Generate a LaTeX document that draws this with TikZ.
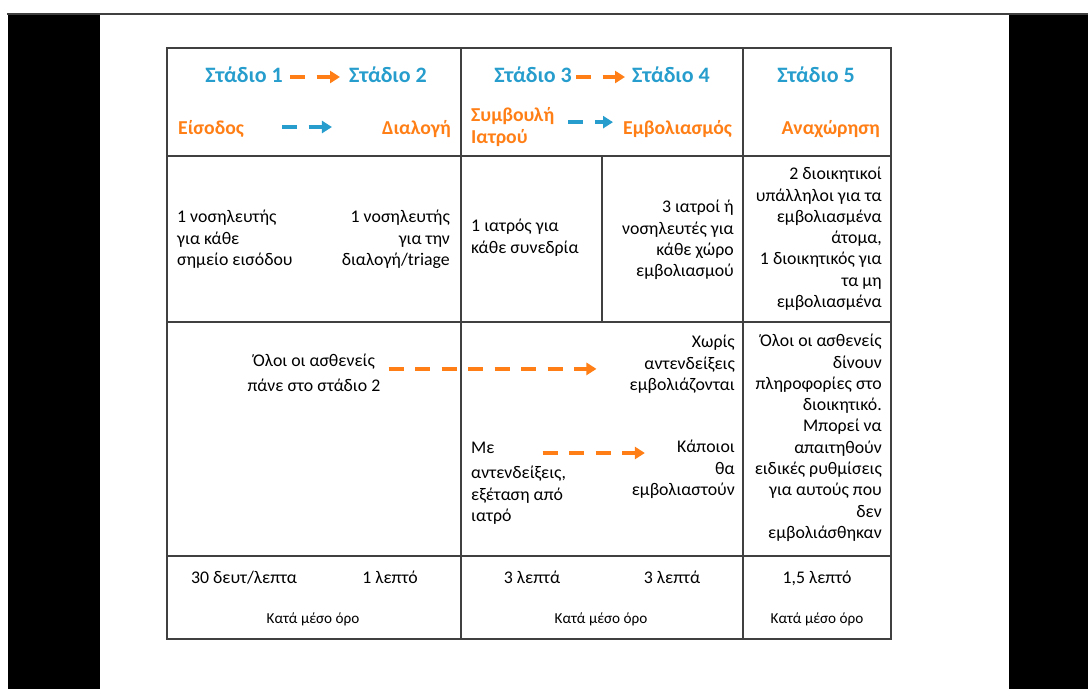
\documentclass[tikz,border=0pt]{standalone}
\usepackage{fontspec}
\setmainfont{Carlito}
\usetikzlibrary{arrows.meta}
\definecolor{stageblue}{RGB}{38,157,204}
\definecolor{steporange}{RGB}{255,127,22}
\definecolor{rulegray}{RGB}{64,64,64}

\begin{document}
\begin{tikzpicture}[
	x=1pt, y=-1pt,
	every node/.style={inner sep=0pt},
	stage/.style = {text=stageblue, font=\fontsize{22}{26}\selectfont\bfseries},
	phase/.style = {text=steporange, font=\fontsize{19.7}{22}\selectfont\bfseries},
	body/.style = {font=\fontsize{17.8}{21.3}\selectfont, execute at begin node=\strut},
	note/.style = {font=\fontsize{15.2}{18}\selectfont},
	flow/.style = {line width=4.5pt, dash pattern=on 15pt off 11.5pt, -{Triangle[length=10pt,width=12pt]}},
	grid/.style = {draw=rulegray, line width=1.3pt}
	]
	\useasboundingbox (0,0) rectangle (1088,689);

	% page frame
	\fill[black] (8,15) rectangle (100,689);
	\fill[black] (1009,15) rectangle (1088,689);
	\draw[rulegray, line width=2pt] (7,14) -- (1088,14);

	% table
	\draw[grid] (167,48) rectangle (891,639);
	\foreach \y in {156,322,556}
		\draw[grid] (167,\y) -- (891,\y);
	\foreach \x in {461,743}
		\draw[grid] (\x,48) -- (\x,639);
	\draw[grid] (602,156) -- (602,322);

	% stages
	\node[stage, anchor=base east] (st1) at (283,82) {Στάδιο 1};
	\node[stage, anchor=base west] (st2) at (349,82) {Στάδιο 2};
	\node[stage, anchor=base east] (st3) at (572,82) {Στάδιο 3};
	\node[stage, anchor=base west] (st4) at (632,82) {Στάδιο 4};
	\node[stage, anchor=base] (st5) at (816,82) {Στάδιο 5};

	\node[phase, anchor=base west] (entry) at (178,134) {Είσοδος};
	\node[phase, anchor=base east] (triage) at (451,134) {Διαλογή};
	\node[phase, anchor=north west, align=left, execute at begin node=\strut] (consult) at (471,107.6) {Συμβουλή\\Ιατρού};
	\node[phase, anchor=base west] (vacc) at (623,134) {Εμβολιασμός};
	\node[phase, anchor=base east] (leave) at (880,134) {Αναχώρηση};

	\draw[flow, steporange, shorten <=7pt, shorten >=9pt] ([yshift=5pt]st1.base east) -- ([yshift=5pt]st2.base west);
	\draw[flow, steporange, shorten <=4pt, shorten >=7pt] ([yshift=5pt]st3.base east) -- ([yshift=5pt]st4.base west);
	\draw[flow, stageblue, shorten <=38pt, shorten >=50pt] ([yshift=7pt]entry.base east) -- ([yshift=7pt]triage.base west);
	\draw[flow, stageblue, shorten <=14pt, shorten >=10pt] ([yshift=7pt]consult.east) -- ([yshift=7pt]consult.east -| vacc.west);

	% staff
	\node[body, anchor=north west, align=left] (nurse1) at (177,210) {1 νοσηλευτής\\για κάθε\\σημείο εισόδου};
	\node[body, anchor=north east, align=right] (nurse2) at (450,210) {1 νοσηλευτής\\για την\\διαλογή/triage};
	\node[body, anchor=north west, align=left] (doctor) at (471,219) {1 ιατρός για\\κάθε συνεδρία};
	\node[body, anchor=north east, align=right] (vaccstaff) at (734,200) {3 ιατροί ή\\νοσηλευτές για\\κάθε χώρο\\εμβολιασμού};
	\node[body, anchor=north east, align=right] (admin) at (882,167) {2 διοικητικοί\\υπάλληλοι για τα\\εμβολιασμένα\\άτομα,\\1 διοικητικός για\\τα μη\\εμβολιασμένα};

	% patient flow
	\node[body, anchor=north, align=center] (allpat) at (314,354) {Όλοι οι ασθενείς\\[3.7pt]πάνε στο στάδιο 2};
	\node[body, anchor=north east, align=right] (nocontra) at (735,335) {Χωρίς\\αντενδείξεις\\εμβολιάζονται};
	\node[body, anchor=base west] (withc) at (471,453) {Με};
	\node[body, anchor=north west, align=left] (withrest) at (471,466) {αντενδείξεις,\\εξέταση από\\ιατρό};
	\node[body, anchor=base east] (some) at (735,452) {Κάποιοι};
	\node[body, anchor=north east, align=right] (somerest) at (735,462) {θα\\εμβολιαστούν};
	\node[body, anchor=north east, align=right] (info) at (882,334) {Όλοι οι ασθενείς\\δίνουν\\πληροφορίες στο\\διοικητικό.\\Μπορεί να\\απαιτηθούν\\ειδικές ρυθμίσεις\\για αυτούς που\\δεν\\εμβολιάσθηκαν};

	\draw[flow, steporange, shorten <=8pt, shorten >=33pt] ([yshift=-14.9pt]allpat.north east) -- ([yshift=-14.9pt]allpat.north east -| nocontra.west);
	\draw[flow, steporange, shorten <=48pt, shorten >=32pt] (withc.base east) -- (withc.base east -| some.west);

	% times
	\node[body, anchor=base] (t1) at (244,583) {30 δευτ/λεπτα};
	\node[body, anchor=base] (t2) at (390,583) {1 λεπτό};
	\node[body, anchor=base] (t3) at (532,583) {3 λεπτά};
	\node[body, anchor=base] (t4) at (672,583) {3 λεπτά};
	\node[body, anchor=base] (t5) at (817,583) {1,5 λεπτό};
	\node[note, anchor=base] (avg1) at (313,623) {Κατά μέσο όρο};
	\node[note, anchor=base] (avg2) at (601,623) {Κατά μέσο όρο};
	\node[note, anchor=base] (avg3) at (817,623) {Κατά μέσο όρο};
\end{tikzpicture}
\end{document}
